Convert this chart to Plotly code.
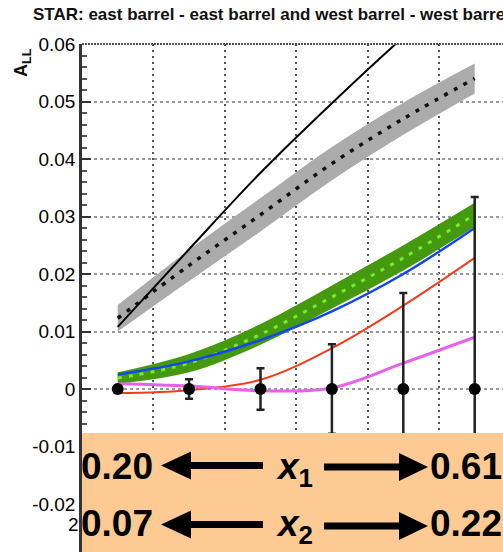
import plotly.graph_objects as go

# ---------------- data ----------------
bin_centers = [0.5, 1.5, 2.5, 3.5, 4.5, 5.5]
data_all = [0.0, 0.0, 0.0, 0.0, 0.0, 0.0]
data_err = [0.0003, 0.0017, 0.0036, 0.0078, 0.0167, 0.0334]

black_line = [0.0108, 0.0243, 0.0376, 0.0497, 0.0612, 0.0720]
gray_center = [0.0123, 0.0215, 0.0303, 0.0392, 0.0470, 0.0540]
gray_half = [0.0023, 0.0027, 0.0029, 0.0029, 0.0028, 0.0026]
green_center = [0.0019, 0.0045, 0.0095, 0.0160, 0.0228, 0.0303]
green_half = [0.0010, 0.0016, 0.0018, 0.0020, 0.0022, 0.0021]
blue_line = [0.0025, 0.0048, 0.0085, 0.0135, 0.0200, 0.0280]
red_line = [-0.0007, -0.0002, 0.0016, 0.0071, 0.0145, 0.0228]
magenta_line = [0.0009, 0.0005, -0.0003, 0.0002, 0.0045, 0.0090]

ytick_vals = [0.06, 0.05, 0.04, 0.03, 0.02, 0.01, 0.0, -0.01, -0.02]
ytick_text = ["0.06", "0.05", "0.04", "0.03", "0.02", "0.01", "0", "-0.01", "-0.02"]
xgrid_vals = [1, 2, 3, 4, 5]

title_text = "STAR: east barrel - east barrel and west barrel - west barrel"
x1_range = ("0.20", "0.61")
x2_range = ("0.07", "0.22")

# ---------------- layout helpers ----------------
W, H = 503, 552
L, R, T, B = 82, 0, 44, 0
PW, PH = W - L - R, H - T - B


def PX(px):
    return (px - L) / PW


def PY(py):
    return (H - B - py) / PH


def upper(c, h):
    return [a + b for a, b in zip(c, h)]


def lower(c, h):
    return [a - b for a, b in zip(c, h)]


fig = go.Figure()

# gray band
fig.add_trace(go.Scatter(x=bin_centers, y=upper(gray_center, gray_half), mode="lines",
                         line=dict(width=0, shape="spline"), showlegend=False, hoverinfo="skip"))
fig.add_trace(go.Scatter(x=bin_centers, y=lower(gray_center, gray_half), mode="lines",
                         line=dict(width=0, shape="spline"), fill="tonexty",
                         fillcolor="#ababab", showlegend=False, hoverinfo="skip"))
fig.add_trace(go.Scatter(x=bin_centers, y=gray_center, mode="lines",
                         line=dict(color="#111111", width=3.5, dash="4px,7px", shape="spline"),
                         showlegend=False))
# black line
fig.add_trace(go.Scatter(x=bin_centers, y=black_line, mode="lines",
                         line=dict(color="#000000", width=2, shape="spline"), showlegend=False))

# green band
fig.add_trace(go.Scatter(x=bin_centers, y=upper(green_center, green_half), mode="lines",
                         line=dict(width=0, shape="spline"), showlegend=False, hoverinfo="skip"))
fig.add_trace(go.Scatter(x=bin_centers, y=lower(green_center, green_half), mode="lines",
                         line=dict(width=0, shape="spline"), fill="tonexty",
                         fillcolor="#45990f", showlegend=False, hoverinfo="skip"))
fig.add_trace(go.Scatter(x=bin_centers, y=green_center, mode="lines",
                         line=dict(color="#74ee2c", width=3, dash="4px,7px", shape="spline"),
                         showlegend=False))
# blue, red, magenta
fig.add_trace(go.Scatter(x=bin_centers, y=blue_line, mode="lines",
                         line=dict(color="#1446f0", width=2.5, shape="spline"), showlegend=False))
fig.add_trace(go.Scatter(x=bin_centers, y=red_line, mode="lines",
                         line=dict(color="#f23c1c", width=2, shape="spline"), showlegend=False))
fig.add_trace(go.Scatter(x=bin_centers, y=magenta_line, mode="lines",
                         line=dict(color="#e563e8", width=3, shape="spline"), showlegend=False))

# data points
fig.add_trace(go.Scatter(x=bin_centers, y=data_all, mode="markers",
                         marker=dict(color="#000000", size=12),
                         error_y=dict(type="data", array=data_err, color="#222222",
                                      thickness=2.5, width=4),
                         showlegend=False))

y_bottom = 0.06 - (PH / 57.5) * 0.01
x_right = PW / 71.4

fig.update_layout(
    width=W, height=H,
    margin=dict(l=L, r=R, t=T, b=B, pad=0),
    paper_bgcolor="white", plot_bgcolor="white",
    font=dict(family="Arial, Liberation Sans, sans-serif", color="#000000"),
    xaxis=dict(range=[0, x_right], showticklabels=False, ticks="",
               tickvals=xgrid_vals, showgrid=True, gridcolor="#555555",
               griddash="2px,4px", gridwidth=1.5, zeroline=False, showline=False),
    yaxis=dict(range=[y_bottom, 0.06], tickvals=ytick_vals, ticktext=ytick_text,
               ticks="inside", ticklen=9, tickwidth=2, tickcolor="#333333",
               tickfont=dict(size=19, family="Arial, Liberation Sans, sans-serif", color="#000000"),
               showgrid=True, gridcolor="#9a9a9a", griddash="3px,3px", gridwidth=1.5,
               zeroline=False, showline=True, linecolor="#333333", linewidth=2.5,
               ticklabelstandoff=0,
               minor=dict(ticks="inside", dtick=0.002, ticklen=5, tickwidth=1.5,
                          tickcolor="#555555", showgrid=False)),
)

shapes = []
# top frame (dotted)
shapes.append(dict(type="line", xref="paper", yref="paper", x0=0, x1=1, y0=1, y1=1,
                   line=dict(color="#555555", width=2, dash="2px,1px"), layer="above"))
# orange box
shapes.append(dict(type="rect", xref="paper", yref="paper", x0=0, x1=1.01,
                   y0=-0.01, y1=PY(433), fillcolor="#fdca94", line=dict(width=0), layer="above"))


def left_arrow(yc):
    shapes.append(dict(type="line", xref="paper", yref="paper", x0=PX(188), x1=PX(263),
                       y0=PY(yc), y1=PY(yc), line=dict(color="black", width=7), layer="above"))
    shapes.append(dict(type="path", xref="paper", yref="paper",
                       path=f"M {PX(161)},{PY(yc)} L {PX(191)},{PY(yc - 14)} L {PX(191)},{PY(yc + 14)} Z",
                       fillcolor="black", line=dict(width=0), layer="above"))


def right_arrow(yc):
    shapes.append(dict(type="line", xref="paper", yref="paper", x0=PX(324), x1=PX(402),
                       y0=PY(yc), y1=PY(yc), line=dict(color="black", width=7), layer="above"))
    shapes.append(dict(type="path", xref="paper", yref="paper",
                       path=f"M {PX(428)},{PY(yc)} L {PX(399)},{PY(yc - 14)} L {PX(399)},{PY(yc + 14)} Z",
                       fillcolor="black", line=dict(width=0), layer="above"))


left_arrow(465.5)
right_arrow(467)
left_arrow(524.5)
right_arrow(526)
fig.update_layout(shapes=shapes)

ann = []
ann.append(dict(text=f"<b>{title_text}</b>", xref="paper", yref="paper", x=PX(31), y=PY(14),
                xanchor="left", yanchor="middle", showarrow=False,
                font=dict(size=17, color="#111111")))
ann.append(dict(text="<b>A<sub>LL</sub></b>", xref="paper", yref="paper", x=PX(22), y=PY(63),
                xanchor="center", yanchor="middle", textangle=-90, showarrow=False,
                font=dict(size=18, color="#111111")))
ann.append(dict(text="2", xref="paper", yref="paper", x=PX(81), y=PY(524),
                xanchor="right", yanchor="middle", showarrow=False,
                font=dict(size=19, color="#000000")))

big = dict(size=37, color="black", family="Arial, Liberation Sans, sans-serif")
for yc, (lo, hi), sub in [(466.5, x1_range, "1"), (523.5, x2_range, "2")]:
    ann.append(dict(text=f"<b>{lo}</b>", xref="paper", yref="paper", x=PX(79), y=PY(yc),
                    xanchor="left", yanchor="middle", showarrow=False, font=big))
    ann.append(dict(text=f"<b>{hi}</b>", xref="paper", yref="paper", x=PX(428), y=PY(yc),
                    xanchor="left", yanchor="middle", showarrow=False, font=big))
    ann.append(dict(text=f"<b><i>x</i><sub>{sub}</sub></b>", xref="paper", yref="paper",
                    x=PX(294), y=PY(yc + 2), xanchor="center", yanchor="middle",
                    showarrow=False, font=big))
fig.update_layout(annotations=ann)

fig.write_html("out.html")
